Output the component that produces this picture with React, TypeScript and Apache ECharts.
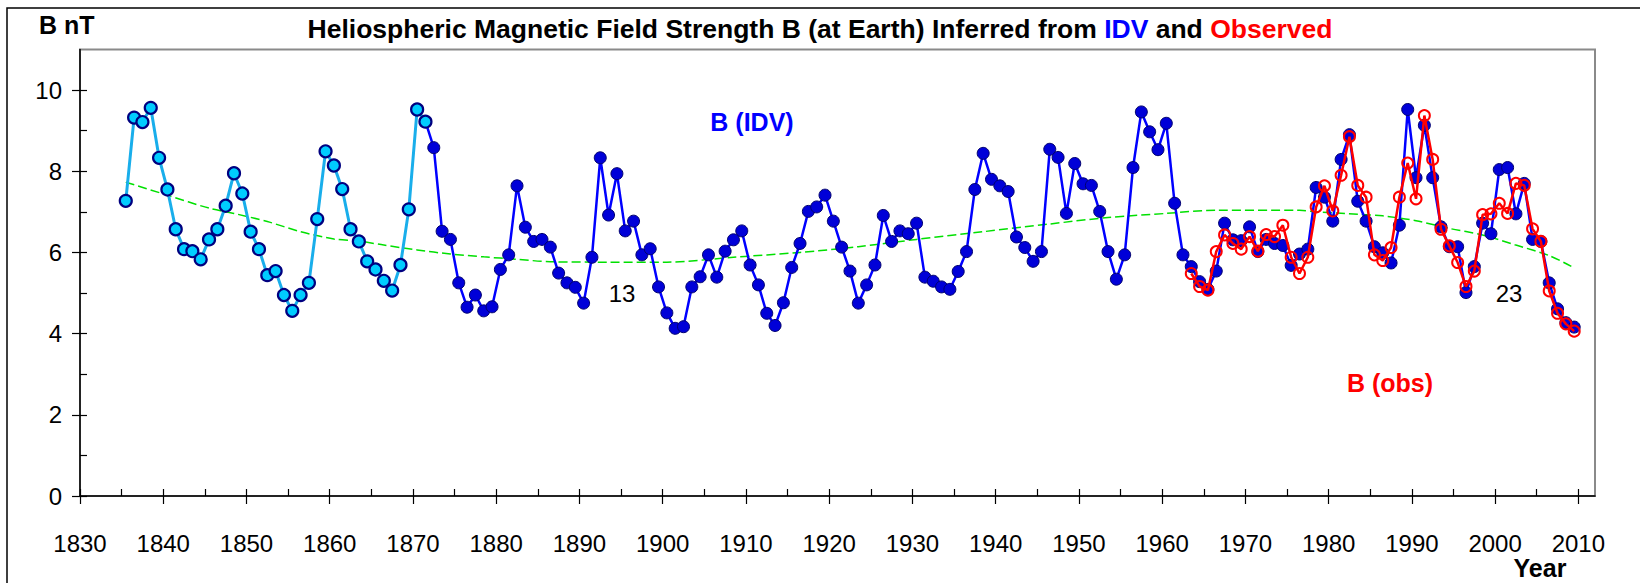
import { useEffect, useRef } from "react";
import * as echarts from "echarts";

// Annual means of B (nT), plotted at mid-year
const idvStartYear = 1835;
const idvValues = [
  7.27, 9.32, 9.21, 9.56, 8.33, 7.55, 6.57, 6.08, 6.03, 5.83, // 1835-1844
  6.32, 6.57, 7.15, 7.95, 7.45, 6.51, 6.08, 5.44, 5.54, 4.95, // 1845-1854
  4.56, 4.95, 5.25, 6.82, 8.49, 8.14, 7.56, 6.57, 6.27, 5.78, // 1855-1864
  5.58, 5.3, 5.06, 5.69, 7.06, 9.52, 9.22, 8.58, 6.52, 6.32, // 1865-1874
  5.25, 4.65, 4.95, 4.56, 4.66, 5.58, 5.94, 7.64, 6.62, 6.27, // 1875-1884
  6.32, 6.13, 5.49, 5.25, 5.14, 4.75, 5.88, 8.33, 6.92, 7.94, // 1885-1894
  6.53, 6.77, 5.94, 6.09, 5.15, 4.51, 4.13, 4.17, 5.15, 5.4, // 1895-1904
  5.94, 5.39, 6.03, 6.31, 6.53, 5.69, 5.2, 4.5, 4.2, 4.76, // 1905-1914
  5.63, 6.22, 7.01, 7.12, 7.41, 6.77, 6.13, 5.54, 4.75, 5.2, // 1915-1924
  5.69, 6.91, 6.27, 6.53, 6.46, 6.72, 5.39, 5.29, 5.15, 5.09, // 1925-1934
  5.53, 6.02, 7.55, 8.44, 7.8, 7.64, 7.5, 6.38, 6.12, 5.78, // 1935-1944
  6.02, 8.54, 8.34, 6.96, 8.19, 7.69, 7.65, 7.01, 6.02, 5.34, // 1945-1954
  5.94, 8.09, 9.46, 8.97, 8.53, 9.18, 7.21, 5.94, 5.65, 5.28, // 1955-1964
  5.09, 5.54, 6.72, 6.31, 6.29, 6.63, 6.02, 6.32, 6.22, 6.17, // 1965-1974
  5.68, 5.96, 6.08, 7.6, 7.36, 6.77, 8.29, 8.9, 7.26, 6.77, // 1975-1984
  6.14, 5.99, 5.74, 6.67, 9.52, 7.84, 9.13, 7.84, 6.63, 6.14, // 1985-1994
  6.14, 5.01, 5.65, 6.72, 6.46, 8.04, 8.09, 6.95, 7.7, 6.32, // 1995-2004
  6.27, 5.25, 4.61, 4.27, 4.16 // 2005-2009
];
// last year of the early (light blue) part of the IDV series
const idvEarlyEndYear = 1871;

const obsStartYear = 1963;
const obsValues = [
  5.48, 5.16, 5.07, 6.02, 6.43, 6.22, 6.08, 6.39, 6.03, 6.44, // 1963-1972
  6.39, 6.67, 5.88, 5.48, 5.88, 7.12, 7.64, 7.02, 7.9, 8.85, // 1973-1982
  7.65, 7.36, 5.94, 5.8, 6.12, 7.36, 8.2, 7.32, 9.37, 8.29, // 1983-1992
  6.57, 6.16, 5.75, 5.16, 5.54, 6.93, 6.95, 7.21, 6.96, 7.7, // 1993-2002
  7.65, 6.58, 6.27, 5.05, 4.5, 4.24, 4.06 // 2003-2009
];

// long-term trend (green dashed)
const trendYears = [
  1835, 1840, 1845, 1848, 1852, 1856, 1860, 1863, 1866, 1870, 1874, 1878,
  1882, 1886, 1893, 1900, 1908, 1916, 1923, 1930, 1938, 1946, 1953, 1960,
  1966, 1976, 1978, 1983, 1986, 1990, 1994, 1998, 2002, 2006, 2009
];
const trendValues = [
  7.73, 7.41, 7.09, 6.96, 6.76, 6.51, 6.33, 6.28, 6.18, 6.06, 5.96, 5.89,
  5.83, 5.77, 5.76, 5.76, 5.88, 6.0, 6.14, 6.32, 6.51, 6.7, 6.86, 6.96,
  7.04, 7.04, 7.0, 6.94, 6.9, 6.78, 6.59, 6.43, 6.18, 5.92, 5.62
];

const xTickValues = [1830, 1840, 1850, 1860, 1870, 1880, 1890, 1900, 1910, 1920,
  1930, 1940, 1950, 1960, 1970, 1980, 1990, 2000, 2010];
const xMinorTickValues = [1830, 1835, 1840, 1845, 1850, 1855, 1860, 1865, 1870, 1875,
  1880, 1885, 1890, 1895, 1900, 1905, 1910, 1915, 1920, 1925, 1930, 1935, 1940, 1945,
  1950, 1955, 1960, 1965, 1970, 1975, 1980, 1985, 1990, 1995, 2000, 2005, 2010];
const yTickValues = [0, 2, 4, 6, 8, 10];
const yMinorTickValues = [0, 1, 2, 3, 4, 5, 6, 7, 8, 9, 10];

const MID = 0.5;
const FONT = "'Liberation Sans', Arial, Helvetica, sans-serif";

export default function App() {
  const ref = useRef<HTMLDivElement>(null);

  useEffect(() => {
    document.body.style.margin = "0";
    if (!ref.current) return;
    const chart = echarts.init(ref.current, undefined, { renderer: "svg" });

    const idv = idvValues.map((v, i) => [idvStartYear + i, v]);
    const idvEarly = idv.filter((d) => d[0] <= idvEarlyEndYear).map((d) => [d[0] + MID, d[1]]);
    const idvLate = idv.filter((d) => d[0] >= idvEarlyEndYear).map((d) => [d[0] + MID, d[1]]);
    const obs = obsValues.map((v, i) => [obsStartYear + i + MID, v]);
    const trend = trendYears.map((y, i) => [y + MID, trendValues[i]]);

    const gridBox = { left: 80, right: 45, top: 49.4, bottom: 87 };

    chart.setOption({
      animation: false,
      backgroundColor: "#fff",
      title: {
        text: "{a|Heliospheric Magnetic Field Strength B (at Earth) Inferred from }{b|IDV}{a| and }{c|Observed}",
        left: "center",
        top: 10,
        textStyle: {
          rich: {
            a: { fontSize: 26.5, fontWeight: "bold", color: "#000", fontFamily: FONT },
            b: { fontSize: 26.5, fontWeight: "bold", color: "#0000FF", fontFamily: FONT },
            c: { fontSize: 26.5, fontWeight: "bold", color: "#FF0000", fontFamily: FONT },
          },
        },
      },
      grid: [
        { ...gridBox, show: true, borderColor: "#8a8a8a", borderWidth: 2, backgroundColor: "transparent" },
        { ...gridBox, show: false },
      ],
      xAxis: [
        {
          type: "value",
          gridIndex: 0,
          min: 1830,
          max: 2012,
          interval: 10,
          axisLine: { show: true, lineStyle: { color: "#000", width: 1.5 } },
          axisTick: { show: true, inside: false, length: 8, customValues: xTickValues, lineStyle: { color: "#000", width: 1.2 } },
          axisLabel: {
            show: true,
            customValues: xTickValues,
            margin: 35,
            fontSize: 24,
            color: "#000",
            fontFamily: FONT,
            formatter: (v: number) => (xTickValues.includes(v) ? String(v) : ""),
          },
          splitLine: { show: false },
        },
        {
          type: "value",
          gridIndex: 1,
          min: 1830,
          max: 2012,
          interval: 5,
          axisLine: { show: false },
          axisTick: { show: true, inside: true, length: 7, customValues: xMinorTickValues, lineStyle: { color: "#000", width: 1.2 } },
          axisLabel: { show: false },
          splitLine: { show: false },
        },
      ],
      yAxis: [
        {
          type: "value",
          gridIndex: 0,
          min: 0,
          max: 11,
          interval: 2,
          axisLine: { show: true, lineStyle: { color: "#000", width: 1.5 } },
          axisTick: { show: true, inside: false, length: 8, customValues: yTickValues, lineStyle: { color: "#000", width: 1.2 } },
          axisLabel: {
            show: true,
            customValues: yTickValues,
            margin: 18,
            fontSize: 24,
            color: "#000",
            fontFamily: FONT,
            formatter: (v: number) => (yTickValues.includes(v) ? String(v) : ""),
          },
          splitLine: { show: false },
        },
        {
          type: "value",
          gridIndex: 1,
          min: 0,
          max: 11,
          interval: 1,
          axisLine: { show: false },
          axisTick: { show: true, inside: true, length: 7, customValues: yMinorTickValues, lineStyle: { color: "#000", width: 1.2 } },
          axisLabel: { show: false },
          splitLine: { show: false },
        },
      ],
      series: [
        {
          name: "trend",
          type: "line",
          xAxisIndex: 0,
          yAxisIndex: 0,
          data: trend,
          showSymbol: false,
          symbol: "none",
          smooth: 0.3,
          lineStyle: { color: "#00E000", width: 1.5, type: [9, 4] },
          z: 1,
        },
        {
          name: "B (IDV)",
          type: "line",
          xAxisIndex: 0,
          yAxisIndex: 0,
          data: idvLate,
          symbol: "circle",
          symbolSize: 12,
          lineStyle: { color: "#0000FF", width: 2.5 },
          itemStyle: { color: "#0000D8", borderColor: "#00006E", borderWidth: 1 },
          z: 2,
        },
        {
          name: "B (IDV) early",
          type: "line",
          xAxisIndex: 0,
          yAxisIndex: 0,
          data: idvEarly,
          symbol: "circle",
          symbolSize: 12,
          lineStyle: { color: "#19AEEB", width: 3 },
          itemStyle: { color: "#00CCFF", borderColor: "#000080", borderWidth: 2.2 },
          z: 3,
        },
        {
          name: "B (obs)",
          type: "line",
          xAxisIndex: 0,
          yAxisIndex: 0,
          data: obs,
          symbol: "circle",
          symbolSize: 11,
          lineStyle: { color: "#FF0000", width: 2.5 },
          itemStyle: { color: "rgba(255,255,255,0)", borderColor: "#FF0000", borderWidth: 2 },
          z: 4,
        },
      ],
      graphic: [
        {
          type: "rect",
          silent: true,
          shape: { x: 7, y: 8, width: 1700, height: 700 },
          style: { fill: "none", stroke: "#000", lineWidth: 1.5 },
          z: 0,
        },
        {
          type: "text",
          x: 39,
          y: 25,
          style: { text: "B nT", font: `bold 25px ${FONT}`, fill: "#000", align: "left", verticalAlign: "middle" },
        },
        {
          type: "text",
          x: 1540,
          y: 568,
          style: { text: "Year", font: `bold 25px ${FONT}`, fill: "#000", align: "center", verticalAlign: "middle" },
        },
        {
          type: "text",
          x: 752,
          y: 122,
          style: { text: "B (IDV)", font: `bold 25px ${FONT}`, fill: "#0000FF", align: "center", verticalAlign: "middle" },
        },
        {
          type: "text",
          x: 1390,
          y: 383,
          style: { text: "B (obs)", font: `bold 25px ${FONT}`, fill: "#FF0000", align: "center", verticalAlign: "middle" },
        },
        {
          type: "text",
          x: 622,
          y: 293,
          style: { text: "13", font: `24px ${FONT}`, fill: "#000", align: "center", verticalAlign: "middle" },
        },
        {
          type: "text",
          x: 1509,
          y: 293,
          style: { text: "23", font: `24px ${FONT}`, fill: "#000", align: "center", verticalAlign: "middle" },
        },
      ],
    });

    return () => chart.dispose();
  }, []);

  return (
    <div
      ref={ref}
      style={{ position: "absolute", left: 0, top: 0, width: 1640, height: 583 }}
    />
  );
}
